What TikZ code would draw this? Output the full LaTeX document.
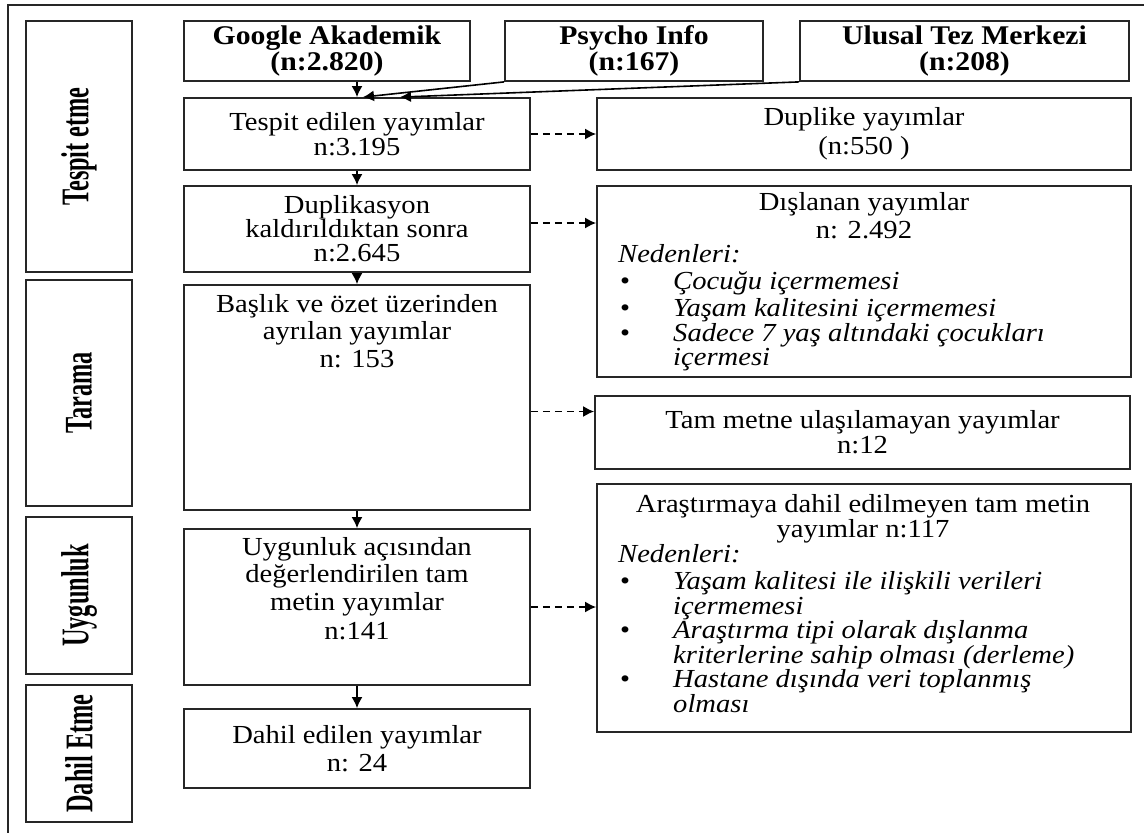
\documentclass[tikz,border=0pt]{standalone}
\usepackage{fontspec}
\setmainfont{Liberation Serif}[FakeStretch=1.1]
\newfontfamily\labfont{Liberation Serif}[FakeStretch=0.9]
\usetikzlibrary{arrows.meta}
\begin{document}
\begin{tikzpicture}[x=1pt,y=-1pt,
  box/.style={draw=black!85, line width=1.8pt, inner sep=0pt, align=center,
    font=\fontsize{26}{26.5}\selectfont},
  src/.style={box, font=\fontsize{27}{26}\selectfont\bfseries, minimum height=60pt},
  mid/.style={box, minimum width=346pt},
  rgt/.style={box, minimum width=534pt},
  lab/.style={draw=black!85, line width=1.8pt, inner sep=0pt, minimum width=106pt},
  lc/.style={anchor=base, inner sep=0pt, font=\fontsize{26}{26}\selectfont},
  ln/.style={anchor=base west, inner sep=0pt, font=\fontsize{26}{26}\selectfont\itshape},
  bl/.style={anchor=base west, inner sep=0pt, font=\fontsize{26}{26}\selectfont},
  arr/.style={-{Latex[length=11pt,width=11pt]}, line width=1.6pt},
  darr/.style={arr, dash pattern=on 7pt off 5pt}
]
\useasboundingbox (0,0) rectangle (1144,833);
% outer frame
\draw[line width=1.8pt, black!85] (8,833) -- (8,5) -- (1144,5);

% stage labels
\newcommand{\vlab}[1]{\scalebox{1.45}[1]{\rotatebox{90}{\labfont\fontsize{27}{27}\selectfont\bfseries #1}}}
\node[lab, minimum height=251pt] (ltespit) at (79,146.5) {\vlab{Tespit etme}};
\node[lab, minimum height=226pt] (ltarama) at (79,393) {\vlab{Tarama}};
\node[lab, minimum height=157pt] (luyg) at (79,595.5) {\vlab{Uygunluk}};
\node[lab, minimum height=137pt] (ldahil) at (79,753.5) {\vlab{Dahil Etme}};

% sources
\node[src, minimum width=286pt] (google) at (327,51) {Google Akademik\\(n:2.820)};
\node[src, minimum width=258pt] (psycho) at (634,51) {Psycho Info\\(n:167)};
\node[src, minimum width=329pt] (ulusal) at (964.5,51) {Ulusal Tez Merkezi\\(n:208)};

% middle column
\node[mid, minimum height=72pt, font=\fontsize{26}{25}\selectfont] (tespit) at (357,134) {Tespit edilen yayımlar\\n:3.195};
\node[mid, minimum height=86pt, font=\fontsize{26}{24}\selectfont] (dup) at (357,229) {Duplikasyon\\kaldırıldıktan sonra\\n:2.645};
\node[mid, minimum height=225pt] (baslik) at (357,397.5) {};
\node[lc] at (357,312) {Başlık ve özet üzerinden};
\node[lc] at (357,339) {ayrılan yayımlar};
\node[lc] at (357,367) {n: 153};
\node[mid, minimum height=156pt] (uyg) at (357,607) {};
\node[lc] at (357,555) {Uygunluk açısından};
\node[lc] at (357,582) {değerlendirilen tam};
\node[lc] at (357,610) {metin yayımlar};
\node[lc] at (357,639) {n:141};
\node[mid, minimum height=79pt, font=\fontsize{26}{28}\selectfont] (dahil) at (357,748.5) {Dahil edilen yayımlar\\n: 24};

% right column
\node[rgt, minimum height=72pt, font=\fontsize{26}{29}\selectfont] (duplike) at (864,134) {Duplike yayımlar\\(n:550 )};
\node[rgt, minimum height=191pt] (disl) at (864,281.5) {};
\node[lc] at (864,210) {Dışlanan yayımlar};
\node[lc] at (864,238) {n: 2.492};
\node[ln] at (618,262) {Nedenleri:};
\node[bl] at (620,289) {\textbullet};
\node[ln] at (673,289) {Çocuğu içermemesi};
\node[bl] at (620,316) {\textbullet};
\node[ln] at (673,316) {Yaşam kalitesini içermemesi};
\node[bl] at (620,341) {\textbullet};
\node[ln] at (673,341) {Sadece 7 yaş altındaki çocukları};
\node[ln] at (673,365) {içermesi};

\node[box, minimum width=535pt, minimum height=73pt, font=\fontsize{26}{25}\selectfont] (tam) at (862.5,432.5) {Tam metne ulaşılamayan yayımlar\\n:12};

\node[rgt, minimum height=248pt] (arast) at (864,608) {};
\node[lc] at (863,512) {Araştırmaya dahil edilmeyen tam metin};
\node[lc] at (863,537) {yayımlar n:117};
\node[ln] at (618,562) {Nedenleri:};
\node[bl] at (620,589) {\textbullet};
\node[ln] at (673,589) {Yaşam kalitesi ile ilişkili verileri};
\node[ln] at (673,614) {içermemesi};
\node[bl] at (620,638) {\textbullet};
\node[ln] at (673,638) {Araştırma tipi olarak dışlanma};
\node[ln] at (673,663) {kriterlerine sahip olması (derleme)};
\node[bl] at (620,687) {\textbullet};
\node[ln] at (673,687) {Hastane dışında veri toplanmış};
\node[ln] at (673,712) {olması};

% connectors
\draw[arr] (google.south -| tespit.north) -- (tespit.north);
\draw[arr] (psycho.south west) -- ([xshift=6pt]tespit.north);
\draw[arr] (ulusal.south west) -- ([xshift=43pt]tespit.north);
\draw[arr] (tespit) -- (dup);
\draw[arr] (dup) -- (baslik);
\draw[arr] (baslik) -- (uyg);
\draw[arr] (uyg) -- (dahil);
\draw[darr] (tespit.east) -- (duplike.west);
\draw[darr] ([yshift=6pt]dup.east) -- ([yshift=6pt]dup.east -| disl.west);
\draw[darr] ([yshift=-14pt]baslik.east) -- ([yshift=-14pt]baslik.east -| tam.west);
\draw[darr] (uyg.east) -- (uyg.east -| arast.west);
\end{tikzpicture}
\end{document}
